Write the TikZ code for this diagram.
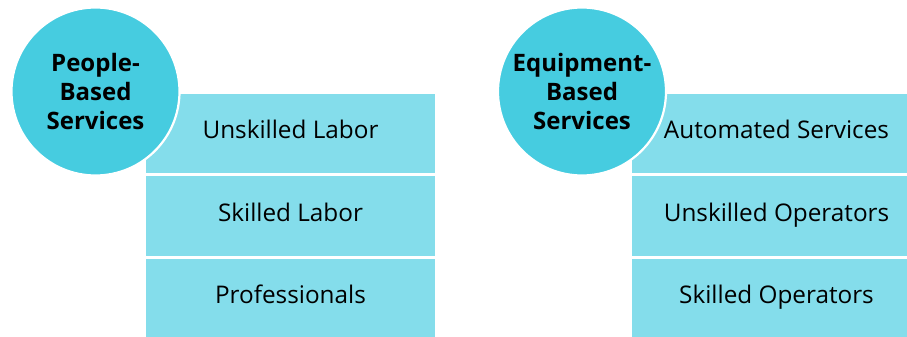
\documentclass[tikz,border=0pt]{standalone}
\usepackage{fontspec}
\setmainfont{Open Sans}
\usepackage{tikz}
\usetikzlibrary{positioning}
\definecolor{circleblue}{HTML}{46CCE0}
\definecolor{rowblue}{HTML}{84DDEB}

\begin{document}
\begin{tikzpicture}[
    x=1pt, y=-1pt,
    hub/.style={circle, fill=circleblue, draw=white, line width=2.2pt, minimum size=168pt, inner sep=0pt, align=center, font=\fontsize{24}{29}\selectfont\bfseries},
    tier/.style={rectangle, fill=rowblue, minimum width=289pt, minimum height=79.5pt, inner sep=0pt, outer sep=0pt, text height=17.4pt, text depth=6pt, font=\fontsize{24.3}{29}\selectfont}
]
    \useasboundingbox (0,0) rectangle (907,337);

    % --- People-based services ---
    \node[tier] (unskilled) at (290.5,133.25) {Unskilled Labor};
    \node[tier, below=3pt of unskilled] (skilled) {Skilled Labor};
    \node[tier, below=3pt of skilled] (prof) {Professionals};
    \node[hub] (people) at (95.5,91.5) {People-\\Based\\Services};

    % --- Equipment-based services ---
    \node[tier] (automated) at (776.5,133.25) {Automated Services};
    \node[tier, below=3pt of automated] (unskop) {Unskilled Operators};
    \node[tier, below=3pt of unskop] (skop) {Skilled Operators};
    \node[hub] (equip) at (582,91.5) {Equipment-\\Based\\Services};
\end{tikzpicture}
\end{document}
